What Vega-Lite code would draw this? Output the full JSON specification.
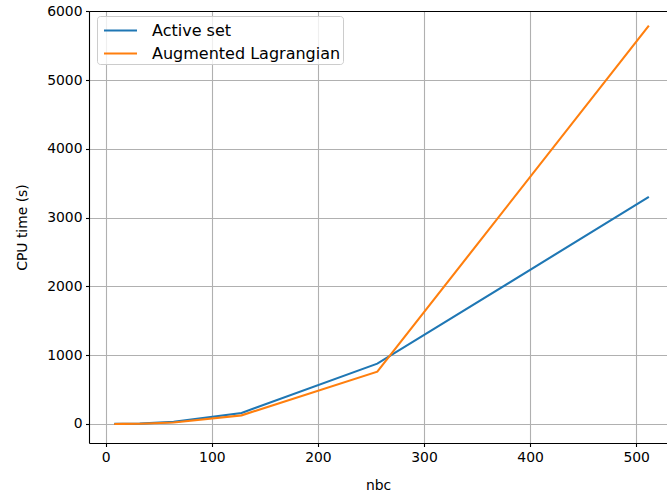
{
  "$schema": "https://vega.github.io/schema/vega-lite/v6.json",
  "autosize": {"type": "none"},
  "padding": {"left": 89, "top": 11, "right": 0, "bottom": 51},
  "width": 578,
  "height": 432,
  "background": "white",
  "config": {
    "view": {"stroke": null},
    "font": "DejaVu Sans",
    "axis": {
      "labelFont": "DejaVu Sans", "labelFontSize": 13.9, "labelColor": "#000000",
      "titleFont": "DejaVu Sans", "titleFontSize": 13.9, "titleFontWeight": "normal", "titleColor": "#000000",
      "domainColor": "#000000", "domainWidth": 1.1, "tickColor": "#000000", "tickWidth": 1.1, "tickSize": 3.5,
      "labelPadding": 3.5, "gridColor": "#b0b0b0", "gridWidth": 1.1, "gridOpacity": 1
    },
    "legend": {
      "labelFont": "DejaVu Sans", "labelFontSize": 16, "labelColor": "#000000"
    }
  },
  "data": {"values": [
    {"nbc": 8, "method": "Active set", "time": 0.5},
    {"nbc": 16, "method": "Active set", "time": 1.5},
    {"nbc": 32, "method": "Active set", "time": 5},
    {"nbc": 64, "method": "Active set", "time": 30},
    {"nbc": 128, "method": "Active set", "time": 160},
    {"nbc": 256, "method": "Active set", "time": 877},
    {"nbc": 512, "method": "Active set", "time": 3301},
    {"nbc": 8, "method": "Augmented Lagrangian", "time": 0.3},
    {"nbc": 16, "method": "Augmented Lagrangian", "time": 1},
    {"nbc": 32, "method": "Augmented Lagrangian", "time": 3},
    {"nbc": 64, "method": "Augmented Lagrangian", "time": 20},
    {"nbc": 128, "method": "Augmented Lagrangian", "time": 125},
    {"nbc": 256, "method": "Augmented Lagrangian", "time": 760},
    {"nbc": 512, "method": "Augmented Lagrangian", "time": 5792}
  ]},
  "resolve": {"axis": {"x": "independent", "y": "independent"}},
  "layer": [
    {
      "mark": {"type": "line", "strokeWidth": 2.1, "clip": true},
      "encoding": {
        "x": {"field": "nbc", "type": "quantitative",
              "scale": {"domain": [-15.8, 529.1], "nice": false, "zero": false},
              "axis": {"title": "nbc", "values": [0, 100, 200, 300, 400, 500], "grid": true, "titlePadding": 15}},
        "y": {"field": "time", "type": "quantitative",
              "scale": {"domain": [-277, 6005], "nice": false, "zero": false},
              "axis": {"title": "CPU time (s)", "format": "d", "values": [0, 1000, 2000, 3000, 4000, 5000, 6000], "grid": true, "titlePadding": 17}},
        "color": {"field": "method", "type": "nominal",
                  "scale": {"domain": ["Active set", "Augmented Lagrangian"], "range": ["#1f77b4", "#ff7f0e"]},
                  "legend": {"title": null, "orient": "none", "legendX": 8, "legendY": 5,
                             "symbolType": "M-1.5,0H1.5", "symbolStrokeWidth": 2.1, "symbolSize": 484,
                             "symbolOffset": 9,
                             "padding": 2, "rowPadding": 2, "labelOffset": 19, "labelLimit": 400,
                             "fillColor": "rgba(255,255,255,0.8)", "strokeColor": "#cccccc", "cornerRadius": 3}}
      }
    },
    {
      "mark": {"type": "line", "opacity": 0},
      "encoding": {
        "x": {"field": "nbc", "type": "quantitative",
              "scale": {"domain": [-15.8, 529.1], "nice": false, "zero": false},
              "axis": {"orient": "top", "title": null, "labels": false, "ticks": false, "grid": false}},
        "y": {"field": "time", "type": "quantitative",
              "scale": {"domain": [-277, 6005], "nice": false, "zero": false},
              "axis": {"orient": "right", "title": null, "labels": false, "ticks": false, "grid": false, "domain": false}},
        "detail": {"field": "method"}
      }
    }
  ]
}
